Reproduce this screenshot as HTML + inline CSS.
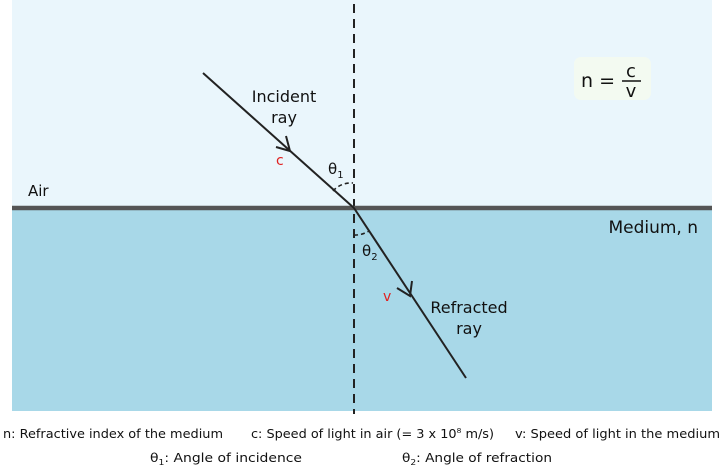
<!DOCTYPE html>
<html><head><meta charset="utf-8"><style>
html,body{margin:0;padding:0;background:#fff;}
svg{display:block;font-family:"DejaVu Sans","Liberation Sans",sans-serif;}
</style></head><body>
<svg width="726" height="474" viewBox="0 0 726 474">
<rect x="12" y="0" width="700" height="208" fill="#eaf6fc"/>
<rect x="12" y="208" width="700" height="203" fill="#a8d8e8"/>
<line x1="354" y1="4" x2="354" y2="414" stroke="#222" stroke-width="2" stroke-dasharray="9,6"/>
<line x1="12" y1="208" x2="712" y2="208" stroke="#555" stroke-width="4.5"/>
<line x1="203" y1="73" x2="354" y2="208" stroke="#222" stroke-width="2"/>
<line x1="354" y1="208" x2="466" y2="378" stroke="#222" stroke-width="2"/>
<polyline points="276,147 290,151 286,136" fill="none" stroke="#222" stroke-width="2"/>
<polyline points="397,288 410,296 412,281" fill="none" stroke="#222" stroke-width="2"/>
<path d="M333,191 A24,24 0 0 1 353,183" fill="none" stroke="#222" stroke-width="1.6" stroke-dasharray="4,3"/>
<path d="M354,235 A26,26 0 0 0 369,231" fill="none" stroke="#222" stroke-width="1.6" stroke-dasharray="4,3"/>
<text x="284" y="102" font-size="16" text-anchor="middle" fill="#111">Incident</text>
<text x="284" y="123" font-size="16" text-anchor="middle" fill="#111">ray</text>
<text x="276" y="165" font-size="14" fill="#e02020">c</text>
<text x="328" y="174" font-size="15" fill="#111">θ<tspan font-size="10" dy="4">1</tspan></text>
<text x="362" y="256" font-size="15" fill="#111">θ<tspan font-size="10" dy="4">2</tspan></text>
<text x="383" y="301" font-size="14" fill="#e02020">v</text>
<text x="469" y="313" font-size="16" text-anchor="middle" fill="#111">Refracted</text>
<text x="469" y="334" font-size="16" text-anchor="middle" fill="#111">ray</text>
<text x="28" y="196" font-size="15" fill="#111">Air</text>
<text x="698" y="233" font-size="17" text-anchor="end" fill="#111">Medium, n</text>
<rect x="574" y="57" width="77" height="43" rx="7" fill="#f3faf1"/>
<text x="581" y="87" font-size="19" fill="#111">n =</text>
<text x="631" y="77" font-size="18" text-anchor="middle" fill="#111">c</text>
<line x1="622" y1="81" x2="641" y2="81" stroke="#111" stroke-width="1.4"/>
<text x="631" y="97" font-size="18" text-anchor="middle" fill="#111">v</text>
<g font-size="12" fill="#111">
<text x="3" y="438" textLength="220" lengthAdjust="spacingAndGlyphs">n: Refractive index of the medium</text>
<text x="251" y="438" textLength="243" lengthAdjust="spacingAndGlyphs">c: Speed of light in air (= 3 x 10<tspan font-size="7" dy="-5">8</tspan><tspan dy="5"> m/s)</tspan></text>
<text x="515" y="438" textLength="205" lengthAdjust="spacingAndGlyphs">v: Speed of light in the medium</text>
<text x="150" y="462" textLength="152" lengthAdjust="spacingAndGlyphs">θ<tspan font-size="8" dy="3">1</tspan><tspan dy="-3">: Angle of incidence</tspan></text>
<text x="402" y="462" textLength="150" lengthAdjust="spacingAndGlyphs">θ<tspan font-size="8" dy="3">2</tspan><tspan dy="-3">: Angle of refraction</tspan></text>
</g>
</svg>
</body></html>
